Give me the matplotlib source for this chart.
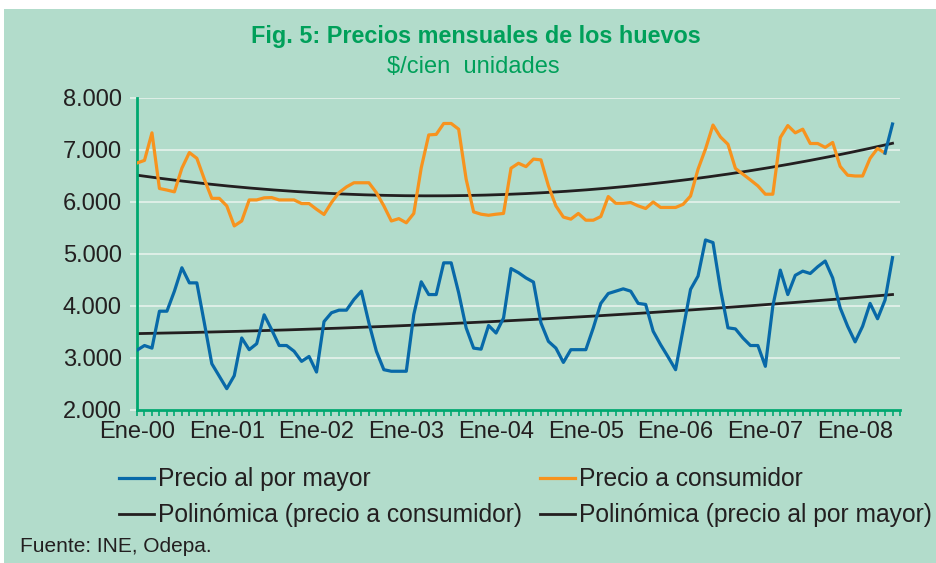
import numpy as np
import matplotlib
matplotlib.use("Agg")
import matplotlib.pyplot as plt
from matplotlib.patches import Rectangle
from matplotlib.ticker import FuncFormatter, MultipleLocator

# precios mensuales, ene-2000 a jun-2008 ($/cien unidades)
mayor = [3150, 3240, 3190, 3900, 3900, 4285, 4735, 4445, 4445, 3675,
         2890, 2650, 2410, 2660, 3385, 3160, 3275, 3830, 3545, 3240,
         3240, 3130, 2935, 3030, 2730, 3700, 3870, 3920, 3920, 4125,
         4285, 3675, 3130, 2775, 2745, 2745, 2745, 3835, 4465, 4220,
         4220, 4830, 4830, 4255, 3580, 3190, 3170, 3625, 3480, 3770,
         4720, 4640, 4540, 4460, 3675, 3320, 3190, 2915, 3160, 3160,
         3160, 3580, 4050, 4240, 4285, 4330, 4285, 4050, 4030, 3515,
         3255, 3020, 2775, 3550, 4320, 4575, 5270, 5220, 4320, 3580,
         3560, 3385, 3240, 3240, 2840, 4000, 4690, 4220, 4590, 4670,
         4625, 4755, 4865, 4540, 3965, 3610, 3310, 3610, 4050, 3755,
         4115, 4930]
consumidor = [6750, 6800, 7330, 6260, 6230, 6195, 6650, 6950, 6840, 6440,
              6070, 6070, 5925, 5540, 5635, 6040, 6040, 6080, 6085, 6040,
              6040, 6040, 5970, 5970, 5860, 5760, 5990, 6180, 6290, 6370,
              6370, 6370, 6180, 5925, 5635, 5680, 5600, 5780, 6660, 7290,
              7300, 7510, 7510, 7400, 6440, 5810, 5765, 5745, 5765, 5780,
              6650, 6745, 6680, 6825, 6810, 6310, 5925, 5710, 5670, 5780,
              5650, 5650, 5720, 6105, 5975, 5975, 5990, 5925, 5875, 6000,
              5895, 5895, 5895, 5955, 6115, 6630, 7020, 7480, 7250, 7110,
              6645, 6535, 6425, 6310, 6150, 6150, 7240, 7470, 7330, 7400,
              7125, 7125, 7050, 7145, 6685, 6515, 6500, 6500, 6840, 7030,
              6940, 7500]
etiquetas = ["Ene-00", "Ene-01", "Ene-02", "Ene-03", "Ene-04",
             "Ene-05", "Ene-06", "Ene-07", "Ene-08"]

bg = "#b2dccb"
verde = "#00a870"
azul = "#0869a8"
naranjo = "#f7931e"
negro = "#231f20"
texto = "#231f20"

plt.rcParams["font.family"] = ["Liberation Sans", "DejaVu Sans"]

fig = plt.figure(figsize=(9.36, 5.63), dpi=100)
fig.patch.set_facecolor("white")
fig.patches.append(Rectangle((4 / 936, 0), 1, 1 - 9 / 563, transform=fig.transFigure,
                             facecolor=bg, edgecolor="none", zorder=-10))

ax = fig.add_axes([137 / 936, 1 - 410 / 563, 763 / 936, 312 / 563])
ax.set_facecolor("none")

x = np.arange(len(mayor))
xs = np.linspace(0, len(mayor) - 1, 300)
tend_c = np.polyval(np.polyfit(x, consumidor, 3), xs)
tend_m = np.polyval(np.polyfit(x, mayor, 2), xs)

l_m, = ax.plot(x, mayor, color=azul, lw=2.3, label="Precio al por mayor", zorder=3)
l_c, = ax.plot(x[:-1], consumidor[:-1], color=naranjo, lw=2.3, label="Precio a consumidor", zorder=3)
ax.plot(x[-2:], consumidor[-2:], color=azul, lw=2.3, zorder=3)
t_c, = ax.plot(xs, tend_c, color=negro, lw=2, label="Polinómica (precio a consumidor)", zorder=2)
t_m, = ax.plot(xs, tend_m, color=negro, lw=2, label="Polinómica (precio al por mayor)", zorder=2)

ax.set_ylim(2000, 8000)
ax.set_xlim(0, 102)
ax.yaxis.set_major_locator(MultipleLocator(1000))
ax.yaxis.set_major_formatter(FuncFormatter(lambda v, p: f"{int(v):,}".replace(",", ".")))
ax.set_xticks(np.arange(0, 97, 12))
ax.set_xticklabels(etiquetas)
ax.xaxis.set_minor_locator(MultipleLocator(1))
ax.grid(axis="y", color="#e2f1ea", lw=1.3, zorder=0)

for s in ["top", "right"]:
    ax.spines[s].set_visible(False)
for s in ["left", "bottom"]:
    ax.spines[s].set_color(verde)
    ax.spines[s].set_linewidth(2)

ax.tick_params(axis="y", length=5, width=1.3, color="#e2f1ea", labelsize=17,
               labelcolor=texto, pad=6)
ax.tick_params(axis="x", which="both", length=4, width=1.2, color=verde,
               labelsize=17, labelcolor=texto, pad=4)
ax.yaxis.get_major_ticks()[0].tick1line.set_color(verde)

fig.text(476 / 936, 1 - 37 / 563, "Fig. 5: Precios mensuales de los huevos",
         ha="center", va="center", fontsize=16.8, fontweight="bold", color="#00a05a")
fig.text(473 / 936, 1 - 67 / 563, "$/cien  unidades",
         ha="center", va="center", fontsize=17, color="#00a05a")

fig.legend(handles=[l_m, t_c, l_c, t_m], ncol=2, loc="upper left",
           bbox_to_anchor=(97 / 936, 1 - 445 / 563), frameon=False,
           fontsize=17.7, handlelength=1.4, handletextpad=0.2,
           columnspacing=0.72, labelspacing=0.5, labelcolor=texto)

fig.text(20 / 936, 1 - 547 / 563, "Fuente: INE, Odepa.", ha="left", va="center",
         fontsize=15, color=texto)

fig.savefig("out.png", dpi=100)
